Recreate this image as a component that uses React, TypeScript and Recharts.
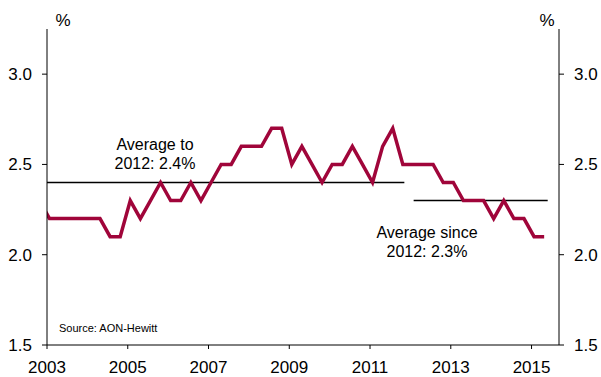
import React from "react";
import { LineChart, Line, XAxis, YAxis, ReferenceLine } from "recharts";

// quarterly pay growth, first point (2002 Q4) sits just left of the axis and is clipped
const FIRST_QUARTER = 2002.8125;
const wageValues = [
  2.3,
  2.2, 2.2, 2.2, 2.2, 2.2, 2.2, 2.1, 2.1, 2.3, 2.2,
  2.3, 2.4, 2.3, 2.3, 2.4, 2.3, 2.4, 2.5, 2.5, 2.6,
  2.6, 2.6, 2.7, 2.7, 2.5, 2.6, 2.5, 2.4, 2.5, 2.5,
  2.6, 2.5, 2.4, 2.6, 2.7, 2.5, 2.5, 2.5, 2.5, 2.4,
  2.4, 2.3, 2.3, 2.3, 2.2, 2.3, 2.2, 2.2, 2.1, 2.1,
];

const xTicks = [2003, 2005, 2007, 2009, 2011, 2013, 2015];
const yTicks = [1.5, 2.0, 2.5, 3.0];

const avgTo2012 = { from: 2003, to: 2011.85, value: 2.4 };
const avgSince2012 = { from: 2012.08, to: 2015.4, value: 2.3 };

const data = wageValues.map((v, i) => ({ t: FIRST_QUARTER + i * 0.25, v }));

const FONT = "'Liberation Sans', Arial, sans-serif";
const RED = "#a0053a";

export default function App() {
  const tickStyle = { fill: "#000", fontSize: 17, fontFamily: FONT };
  return (
    <div style={{ position: "absolute", left: 0, top: 0, width: 601, height: 377, background: "#fff" }}>
      <LineChart width={601} height={377} data={data} margin={{ top: 29, right: 0, bottom: 0, left: 0 }}>
        <XAxis
          dataKey="t"
          type="number"
          domain={[2003, 2015.68]}
          allowDataOverflow
          ticks={xTicks}
          height={32}
          tickSize={4}
          tickMargin={12}
          tick={tickStyle}
          stroke="#000"
          tickLine={{ stroke: "#000" }}
        />
        <YAxis
          yAxisId="left"
          orientation="left"
          type="number"
          domain={[1.5, 3.25]}
          ticks={yTicks}
          width={47}
          tickSize={5}
          tickMargin={10}
          tick={tickStyle}
          tickFormatter={(v: number) => v.toFixed(1)}
          stroke="#000"
          allowDataOverflow
        />
        <YAxis
          yAxisId="right"
          orientation="right"
          type="number"
          domain={[1.5, 3.25]}
          ticks={yTicks}
          width={42}
          tickSize={5}
          tickMargin={10}
          tick={tickStyle}
          tickFormatter={(v: number) => v.toFixed(1)}
          stroke="#000"
          allowDataOverflow
        />
        <ReferenceLine
          yAxisId="left"
          segment={[
            { x: avgTo2012.from, y: avgTo2012.value },
            { x: avgTo2012.to, y: avgTo2012.value },
          ]}
          stroke="#000"
          strokeWidth={1.5}
        />
        <ReferenceLine
          yAxisId="left"
          segment={[
            { x: avgSince2012.from, y: avgSince2012.value },
            { x: avgSince2012.to, y: avgSince2012.value },
          ]}
          stroke="#000"
          strokeWidth={1.5}
        />
        {/* same series on the right scale, invisible, so the right axis gets its ticks */}
        <Line
          yAxisId="right"
          dataKey="v"
          stroke="none"
          dot={false}
          activeDot={false}
          isAnimationActive={false}
        />
        <Line
          yAxisId="left"
          dataKey="v"
          stroke={RED}
          strokeWidth={3.5}
          dot={false}
          strokeLinejoin="miter"
          isAnimationActive={false}
        />
      </LineChart>
      <svg
        width={601}
        height={377}
        style={{ position: "absolute", left: 0, top: 0, pointerEvents: "none" }}
        fontFamily={FONT}
      >
        <text x={63} y={26} fontSize={17} textAnchor="middle">%</text>
        <text x={547} y={26} fontSize={17} textAnchor="middle">%</text>
        <text x={155} y={150} fontSize={16} textAnchor="middle">Average to</text>
        <text x={155} y={168.5} fontSize={16} textAnchor="middle">2012: 2.4%</text>
        <text x={427} y={238} fontSize={16} textAnchor="middle">Average since</text>
        <text x={427} y={257} fontSize={16} textAnchor="middle">2012: 2.3%</text>
        <text x={59} y={332} fontSize={11}>Source: AON-Hewitt</text>
      </svg>
    </div>
  );
}
